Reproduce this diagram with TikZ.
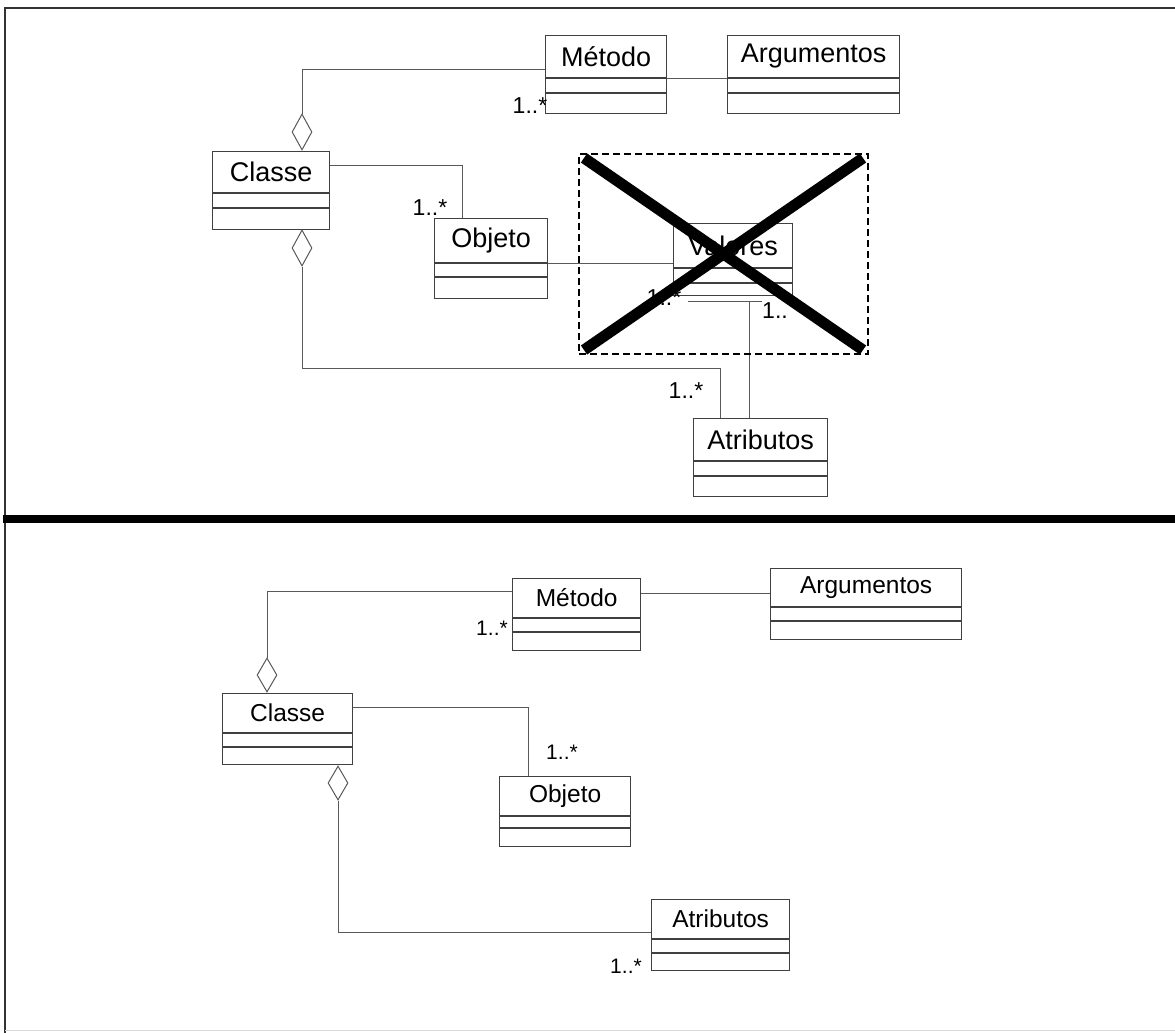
\documentclass[tikz,border=0pt]{standalone}
\usepackage{fontspec}
\setmainfont{Liberation Sans}
\usetikzlibrary{calc,shapes.geometric}

\tikzset{
  boxline/.style={draw=black!75, line width=1.3pt},
  umlbox/.style={boxline, fill=white, rectangle, inner sep=0pt, anchor=north west},
  conn/.style={draw=black!65, line width=1pt},
  agg/.style={diamond, draw=black!65, line width=1pt, fill=white, inner sep=0pt,
              minimum width=20pt, minimum height=36pt},
  classname/.style={inner sep=0pt, font=\fontsize{27}{27}\selectfont},
  mult/.style={inner sep=0pt, font=\fontsize{23}{23}\selectfont},
  cutframe/.style={draw=black, line width=2pt, dash pattern=on 7pt off 4pt,
                   rectangle, inner sep=0pt, anchor=north west},
  crossout/.style={draw=black, line width=11pt},
  frameline/.style={draw=black!80, line width=2.5pt},
}

% UML class box: name, x, y, width, height, first divider, second divider, title
\newcommand\umlclass[8]{%
  \node[umlbox, minimum width=#4pt, minimum height=#5pt] (#1) at (#2,#3) {};
  \node[classname] (#1-name) at ($(#1.north)+(0,#6/2)$) {#8};
  \draw[boxline] ($(#1.north west)+(0,#6)$) -- ($(#1.north east)+(0,#6)$);
  \draw[boxline] ($(#1.north west)+(0,#7)$) -- ($(#1.north east)+(0,#7)$);
}

\begin{document}
\begin{tikzpicture}[x=1pt, y=-1pt]
\useasboundingbox (0,0) rectangle (1175,1033);

% outer frame and separator
\draw[frameline] (5,1033) -- (5,8) -- (1175,8);
\draw[draw=black!15, line width=1pt] (5,1030) -- (1175,1030);
\draw[draw=black, line width=8pt] (3,519) -- (1175,519);

% ---------------- upper model ----------------
\umlclass{tmetodo}{545}{35}{121}{78}{43}{58}{Método}
\umlclass{targs}{727}{35}{172}{78}{43}{58}{Argumentos}
\umlclass{tclasse}{212}{151}{117}{78}{42}{57}{Classe}
\umlclass{tobjeto}{434}{218}{113}{80}{45}{59}{Objeto}
\umlclass{tvalores}{673}{223}{119}{72}{45}{60}{Valores}
\umlclass{tatrib}{693}{418}{134}{78}{43}{58}{Atributos}

\node[agg] (tdiaA) at (302,132) {};
\node[agg] (tdiaB) at (302,248) {};

\draw[conn] (tdiaA.north) |- ($(tmetodo.north west)+(0,35)$);
\draw[conn] ($(tmetodo.north east)+(0,43)$) -- ($(targs.north west)+(0,43)$);
\draw[conn] ($(tclasse.north east)+(0,14)$) -| ($(tobjeto.north west)+(28,0)$);
\draw[conn] ($(tobjeto.north east)+(0,45)$) -- ($(tvalores.north west)+(0,40)$);
\draw[conn] (tdiaB.south) -- ($(tdiaB.south)+(0,102)$) -| ($(tatrib.north west)+(27,0)$);
\coordinate (tvl) at ($(tvalores.south west)+(15,5)$);
\coordinate (tvr) at ($(tvalores.south west)+(89,5)$);
\coordinate (tvd) at ($(tvalores.south west)+(76,5)$);
\draw[conn] (tvl) -- (tvr);
\draw[conn] (tvd) -- ($(tatrib.north west)+(56,0)$);

\node[mult] (tm1) at (530,106) {1..*};
\node[mult] (tm2) at (430,208) {1..*};
\node[mult] (tm3) at (686,391) {1..*};
\node[mult] (tm4) at (664,298) {1..*};
\node[mult] (tm5) at (775,311) {1..};

% struck-out part
\node[cutframe, minimum width=289pt, minimum height=200pt] (tcut) at (578,153) {};
\draw[crossout] ($(tcut.north west)+(6,5)$) -- ($(tcut.south east)+(-6,-5)$);
\draw[crossout] ($(tcut.north east)+(-6,5)$) -- ($(tcut.south west)+(6,-5)$);

% ---------------- lower model ----------------
\begin{scope}[classname/.style={inner sep=0pt, font=\fontsize{24.5}{24.5}\selectfont},
              mult/.style={inner sep=0pt, font=\fontsize{21}{21}\selectfont}]
\umlclass{bmetodo}{512}{578}{128}{72}{40}{54}{Método}
\umlclass{bargs}{770}{568}{191}{71}{39}{53}{Argumentos}
\umlclass{bclasse}{222}{693}{130}{71}{40}{54}{Classe}
\umlclass{bobjeto}{499}{776}{131}{70}{40}{52}{Objeto}
\umlclass{batrib}{651}{899}{138}{71}{40}{54}{Atributos}

\node[agg, minimum height=34pt] (bdiaA) at (267,675) {};
\node[agg, minimum height=34pt] (bdiaB) at (338,783) {};

\draw[conn] (bdiaA.north) |- ($(bmetodo.north west)+(0,13)$);
\draw[conn] ($(bmetodo.north east)+(0,15)$) -- ($(bargs.north west)+(0,25)$);
\draw[conn] ($(bclasse.north east)+(0,14)$) -| ($(bobjeto.north west)+(29,0)$);
\draw[conn] (bdiaB.south) |- ($(batrib.north west)+(0,33)$);

\node[mult] (bm1) at (492,628) {1..*};
\node[mult] (bm2) at (562,752) {1..*};
\node[mult] (bm3) at (626,966) {1..*};
\end{scope}
\end{tikzpicture}
\end{document}
